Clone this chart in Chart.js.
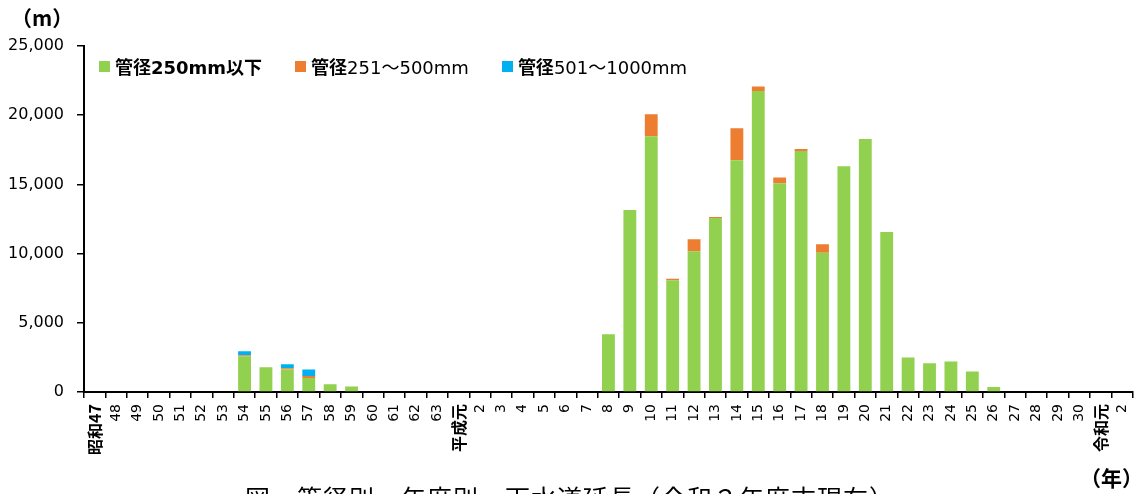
<!DOCTYPE html>
<html lang="ja">
<head>
<meta charset="utf-8">
<title>管径別・年度別 下水道延長</title>
<script src="https://cdn.jsdelivr.net/npm/chart.js@4.4.1/dist/chart.umd.min.js"></script>
<style>
  html, body { margin: 0; padding: 0; background: #fff; overflow: hidden; }
  #wrap { position: relative; width: 1145px; height: 510px; }
  #chart { position: absolute; left: 0; top: 0; }
  .txt { position: absolute; color: #000; white-space: nowrap;
         font-family: "Noto Sans CJK JP", sans-serif; }
  #unit { left: 11px; top: 2px; font-size: 21px; font-weight: bold; }
  #yearUnit { left: 1080px; top: 462px; font-size: 21px; font-weight: bold; }
  #caption { left: 0; width: 1140px; top: 479px; text-align: center; font-size: 25px;
             letter-spacing: 1px; }
  #legend { position: absolute; left: 99px; top: 53px; display: flex; align-items: center; }
  .item { display: flex; align-items: center; margin-right: 33px; font-size: 18px;
          font-family: "DejaVu Sans", "Noto Sans CJK JP", sans-serif; }
  .item .box { width: 11px; height: 11px; margin-right: 5px; }
  .item .kanji { font-family: "Noto Sans CJK JP", sans-serif; font-weight: bold; font-size: 18px; }
</style>
</head>
<body>
<div id="wrap">
  <canvas id="chart" width="1145" height="510"></canvas>
  <div id="legend"></div>
  <div class="txt" id="unit">（m）</div>
  <div class="txt" id="yearUnit">（年）</div>
  <div class="txt" id="caption">図　管径別　年度別　下水道延長（令和２年度末現在）</div>
</div>
<script>
// Fiscal years: 昭和47–63, 平成元–30, 令和元–2
const years = [
  '昭和47', '48', '49', '50', '51', '52', '53', '54', '55', '56', '57', '58', '59',
  '60', '61', '62', '63',
  '平成元', '2', '3', '4', '5', '6', '7', '8', '9', '10', '11', '12', '13', '14',
  '15', '16', '17', '18', '19', '20', '21', '22', '23', '24', '25', '26', '27',
  '28', '29', '30',
  '令和元', '2'
];

// Sewer length laid per year (m), by pipe diameter
const dia250orLess = [
  0, 0, 0, 0, 0, 0, 0, 2580, 1790, 1620, 1010, 560, 390,
  0, 0, 0, 0,
  0, 0, 0, 0, 0, 0, 0, 4170, 13150, 18480, 8070, 10170, 12570, 16740,
  21750, 15080, 17410, 10070, 16310, 18280, 11560, 2500, 2080, 2200, 1480, 360, 0,
  0, 0, 0,
  0, 0
];
const dia251to500 = [
  0, 0, 0, 0, 0, 0, 0, 70, 0, 90, 150, 0, 0,
  0, 0, 0, 0,
  0, 0, 0, 0, 0, 0, 0, 0, 0, 1590, 120, 870, 70, 2310,
  320, 410, 150, 600, 0, 0, 0, 0, 0, 0, 0, 0, 0,
  0, 0, 0,
  0, 0
];
const dia501to1000 = [
  0, 0, 0, 0, 0, 0, 0, 290, 0, 290, 460, 0, 0,
  0, 0, 0, 0,
  0, 0, 0, 0, 0, 0, 0, 0, 0, 0, 0, 0, 0, 0,
  0, 0, 0, 0, 0, 0, 0, 0, 0, 0, 0, 0, 0,
  0, 0, 0,
  0, 0
];

const seriesNames = ['管径250mm以下', '管径251～500mm', '管径501～1000mm'];
const seriesColors = ['#92D050', '#ED7D31', '#00B0F0'];
const seriesData = [dia250orLess, dia251to500, dia501to1000];

const numFont = '"DejaVu Sans", "Noto Sans CJK JP", sans-serif';

const chart = new Chart(document.getElementById('chart'), {
  type: 'bar',
  data: {
    labels: years,
    datasets: seriesData.map((d, i) => ({
      label: seriesNames[i],
      data: d,
      backgroundColor: seriesColors[i],
      borderWidth: 0,
      categoryPercentage: 1.0,
      barPercentage: 0.6
    }))
  },
  options: {
    responsive: false,
    devicePixelRatio: 1,
    animation: false,
    layout: { padding: { top: 46, right: 3, left: 0, bottom: 0 } },
    plugins: {
      legend: { display: false },
      tooltip: { enabled: false }
    },
    scales: {
      x: {
        stacked: true,
        afterFit: s => { s.height = 118; },
        border: { display: true, color: '#000', width: 2 },
        grid: { display: true, drawOnChartArea: false, drawTicks: true,
                tickLength: 6, color: '#000', lineWidth: 1.5, offset: true },
        ticks: {
          autoSkip: false, minRotation: 90, maxRotation: 90, padding: 6,
          color: '#000',
          font: c => {
            const lbl = years[c.index] || '';
            return /[^\x00-\x7F]/.test(lbl)
              ? { family: '"Noto Sans CJK JP", sans-serif', size: 16, weight: 'bold' }
              : { family: numFont, size: 14 };
          }
        }
      },
      y: {
        stacked: true,
        min: 0, max: 25000,
        afterFit: s => { s.width = 84; },
        border: { display: true, color: '#000', width: 2 },
        grid: { display: true, drawOnChartArea: false, drawTicks: true,
                tickLength: 7, color: '#000', lineWidth: 1.5 },
        ticks: {
          stepSize: 5000, padding: 13, color: '#000',
          font: { family: numFont, size: 16 },
          callback: v => v.toLocaleString('en-US')
        }
      }
    }
  }
});

// Legend built from the chart's own datasets
const legendEl = document.getElementById('legend');
chart.data.datasets.forEach((ds, i) => {
  const item = document.createElement('div');
  item.className = 'item';
  const box = document.createElement('span');
  box.className = 'box';
  box.style.background = ds.backgroundColor;
  const k = document.createElement('span');
  k.className = 'kanji';
  k.textContent = ds.label.slice(0, 2);
  const rest = document.createElement('span');
  rest.textContent = ds.label.slice(2);
  if (i === 0) rest.style.fontWeight = 'bold';
  item.append(box, k, rest);
  legendEl.appendChild(item);
});
</script>
</body>
</html>
